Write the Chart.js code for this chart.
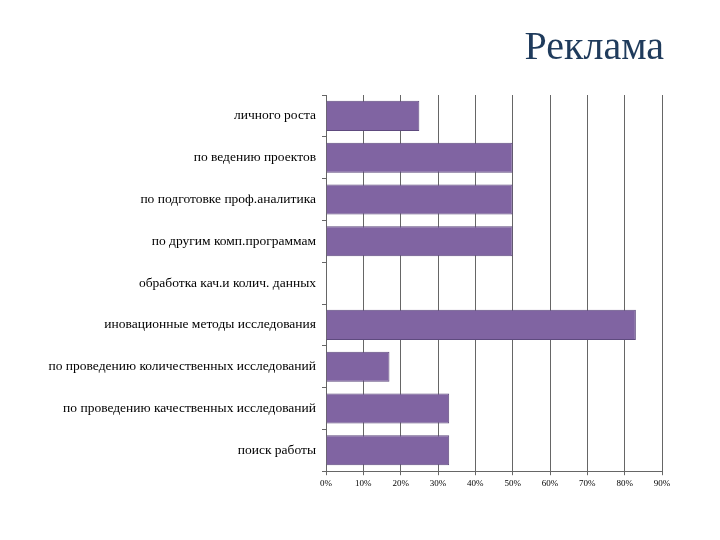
<!DOCTYPE html><html><head><meta charset="utf-8">
<script src="https://cdn.jsdelivr.net/npm/chart.js"></script>
<style>body{margin:0;background:#fff}#t{position:absolute;right:56px;top:22px;font:40px "Liberation Serif",serif;color:#1F3B5C}#w{position:absolute;left:0;top:0;width:720px;height:540px}</style>
</head><body><div id="w"><canvas id="c"></canvas></div><div id="t">Реклама</div>
<script>
const categories=["личного роста","по ведению проектов","по подготовке проф.аналитика","по другим комп.программам","обработка кач.и колич. данных","иновационные методы исследования","по проведению количественных исследований","по проведению качественных исследований","поиск работы"];
const values=[0.25,0.5,0.5,0.5,0,0.83,0.17,0.33,0.33];
new Chart(document.getElementById('c'),{type:'bar',
data:{labels:categories,datasets:[{data:values,backgroundColor:'#8064A2',borderColor:'#5E4A7E',borderWidth:1,categoryPercentage:0.72,barPercentage:1}]},
options:{indexAxis:'y',responsive:true,maintainAspectRatio:false,animation:false,
layout:{padding:{left:0,right:58,top:95,bottom:48}},
plugins:{legend:{display:false},tooltip:{enabled:false}},
scales:{x:{min:0,max:0.9,ticks:{stepSize:0.1,callback:v=>Math.round(v*100)+'%',color:'#000',font:{family:'Liberation Serif',size:9}},grid:{color:'#666',drawTicks:true,tickLength:4},border:{color:'#666'}},
y:{afterFit:s=>{s.width=326},ticks:{color:'#000',padding:6,font:{family:'Liberation Serif',size:13.5}},grid:{display:true,offset:true,drawOnChartArea:false,tickLength:4,color:'#666'},border:{color:'#666'}}}}});
</script></body></html>
